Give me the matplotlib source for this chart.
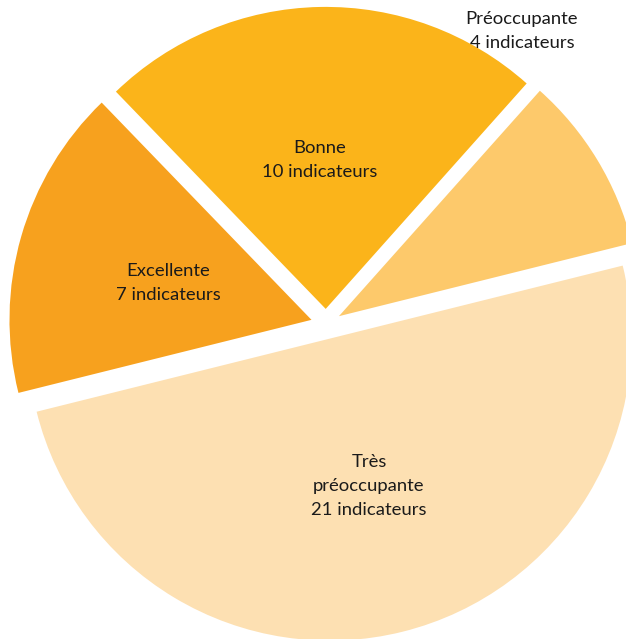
import matplotlib
matplotlib.use("Agg")
import matplotlib.pyplot as plt

categories = ["Préoccupante", "Bonne", "Excellente", "Très\npréoccupante"]
values = [4, 10, 7, 21]
unit = "indicateurs"
colors = ["#FDC96B", "#FBB41A", "#F7A11E", "#FDE0B2"]

# label centres in pixel coords of the reference
label_px = [(522, 31), (320, 160), (168, 283), (369, 486)]

W, H = 626, 639
CX, CY, R = 326, 324, 302

fig = plt.figure(figsize=(W / 100, H / 100), dpi=100)
ax = fig.add_axes([0, 0, 1, 1])
ax.pie(values, colors=colors, startangle=14, counterclock=True,
       explode=[0.05] * len(values), radius=1,
       wedgeprops=dict(linewidth=0))
ax.set_xlim(-CX / R, (W - CX) / R)
ax.set_ylim(-(H - CY) / R, CY / R)
ax.set_aspect("equal")
ax.axis("off")

for cat, v, (px, py) in zip(categories, values, label_px):
    x = (px - CX) / R
    y = (CY - py) / R
    ax.text(x, y, f"{cat}\n{v} {unit}", ha="center", va="center",
            fontsize=13.3, family="Lato", color="#1a1a1a", linespacing=1.58)

fig.savefig("out.png", dpi=100)
